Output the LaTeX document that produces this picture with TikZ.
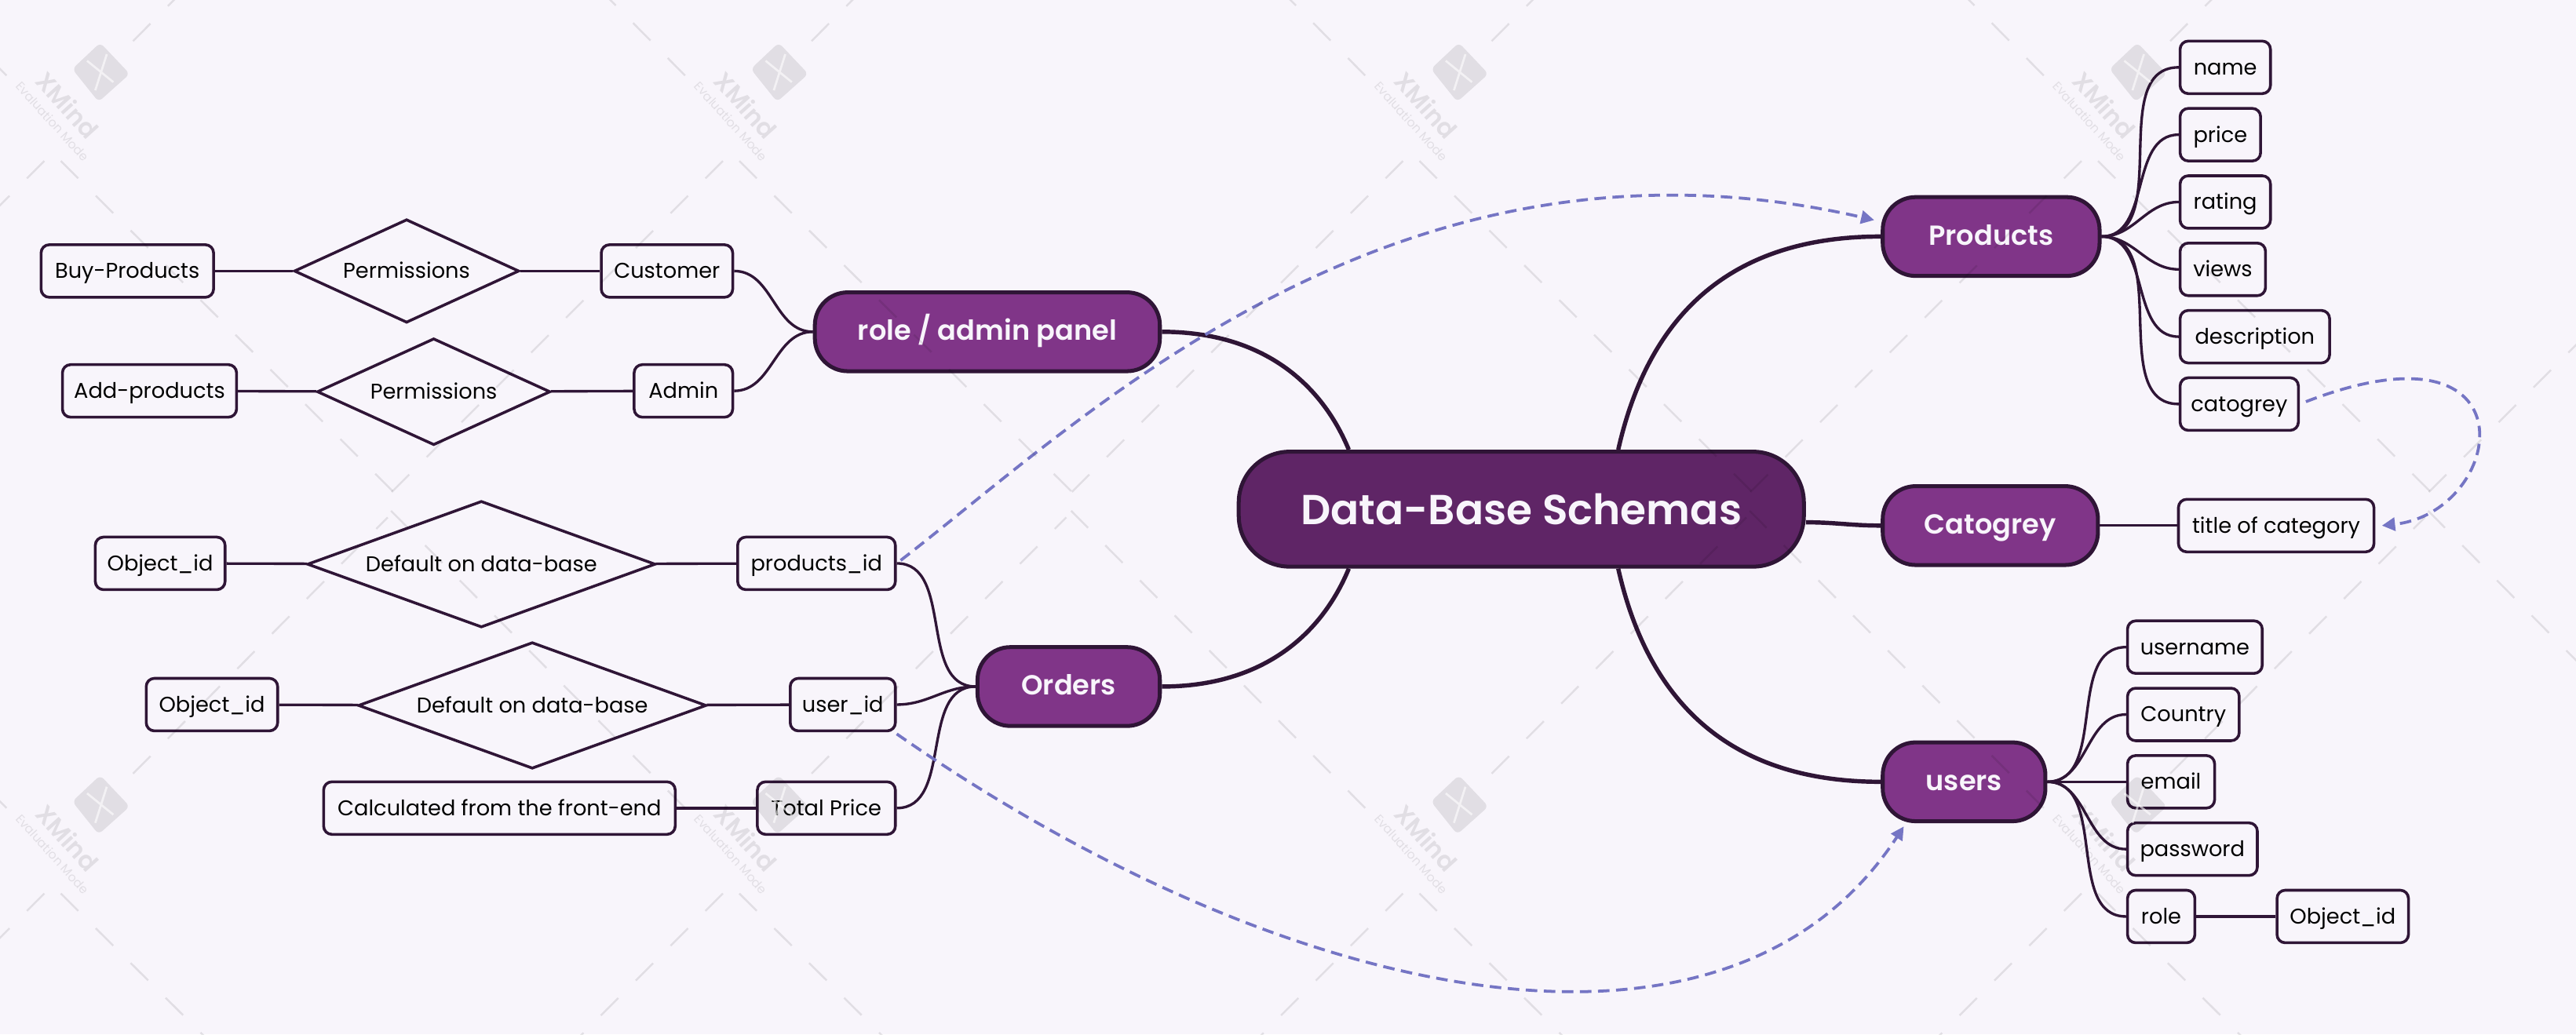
\documentclass[tikz,border=0pt]{standalone}
\usepackage{fontspec}
\setmainfont{Poppins}[BoldFont=* SemiBold]
\usepackage{tikz}
\usetikzlibrary{positioning,calc,arrows.meta,shapes.geometric}
\definecolor{paperbg}{HTML}{F8F5FB}
\definecolor{inkdark}{HTML}{2F1536}
\definecolor{hubfill}{HTML}{5F2566}
\definecolor{topicfill}{HTML}{803588}
\definecolor{linkblue}{HTML}{7575C4}
\tikzset{leaf/.style = {rectangle,draw=inkdark,fill=paperbg,line width=1.7pt,rounded corners=5pt,minimum height=32pt,inner sep=0pt,text height=10.5pt,text depth=1.5pt,text=black,font=\fontsize{13}{15}\selectfont}}
\tikzset{rhomb/.style = {diamond,draw=inkdark,fill=paperbg,line width=1.7pt,inner sep=0pt,text height=10.5pt,text depth=1.5pt,text=black,font=\fontsize{13}{15}\selectfont}}
\tikzset{topic/.style = {rectangle,draw=inkdark,fill=topicfill,line width=2.4pt,rounded corners=20pt,minimum height=48pt,inner sep=0pt,text height=13pt,text depth=2.5pt,text=paperbg,font=\fontsize{16.8}{20}\selectfont\bfseries}}
\tikzset{twig/.style = {draw=inkdark,line width=1.6pt}}
\tikzset{limb/.style = {draw=inkdark,line width=2.6pt}}
\tikzset{relation/.style = {draw=linkblue,line width=1.8pt,dash pattern=on 7pt off 4pt,-{Triangle[length=8pt,width=8pt]}}}
\tikzset{mark line/.style = {black,opacity=.09,line width=1.2pt,dash pattern=on 15pt off 15pt}}
\begin{document}
\begin{tikzpicture}[x=1pt,y=-1pt]
        \fill[paperbg] (0,0) rectangle (1568,629.7);
        \useasboundingbox (0,0) rectangle (1568,629.7);
        \node [rectangle,draw=inkdark,fill=hubfill,line width=2.4pt,rounded corners=31pt,minimum width=344pt,minimum height=70pt,text=paperbg,font=\fontsize{25.5}{30}\selectfont\bfseries] (hub) at (926,310) {Data-Base Schemas};
        \node [topic,minimum width=210pt] (role) at (601,202) {role / admin panel};
        \node [topic,minimum width=111pt] (orders) at (650.5,418) {Orders};
        \node [topic,minimum width=132pt] (products) at (1212,144) {Products};
        \node [topic,minimum width=131pt] (category) at (1211.5,320) {Catogrey};
        \node [topic,minimum width=99pt] (users) at (1195.5,476) {users};
        \node [leaf,minimum width=105pt] (buy) at (77.5,165) {Buy-Products};
        \node [rhomb,aspect=2.17,minimum width=137pt,minimum height=63pt] (permA) at (247.5,165) {Permissions};
        \node [leaf,minimum width=80pt] (customer) at (406,165) {Customer};
        \node [leaf,minimum width=106pt] (add) at (91,238) {Add-products};
        \node [rhomb,aspect=2.18,minimum width=142pt,minimum height=65pt] (permB) at (264,238.5) {Permissions};
        \node [leaf,minimum width=60pt] (admin) at (416,238) {Admin};
        \node [leaf,minimum width=79pt] (objA) at (97.5,343) {Object\_id};
        \node [rhomb,aspect=2.75,minimum width=212pt,minimum height=77pt] (defA) at (293,343.5) {Default on data-base};
        \node [leaf,minimum width=96pt] (prodid) at (497,343) {products\_id};
        \node [leaf,minimum width=80pt] (objB) at (129,429) {Object\_id};
        \node [rhomb,aspect=2.75,minimum width=212pt,minimum height=77pt] (defB) at (324,429.5) {Default on data-base};
        \node [leaf,minimum width=64pt] (userid) at (513,429) {user\_id};
        \node [leaf,minimum width=214pt] (calc) at (304,492) {Calculated from the front-end};
        \node [leaf,minimum width=84pt] (total) at (503,492) {Total Price};
        \node [leaf,minimum width=55pt] (name) at (1354.5,41) {name};
        \node [leaf,minimum width=49pt] (price) at (1351.5,82) {price};
        \node [leaf,minimum width=55pt] (rating) at (1354.5,123) {rating};
        \node [leaf,minimum width=52pt] (views) at (1353,164) {views};
        \node [leaf,minimum width=91pt] (descr) at (1372.5,205) {description};
        \node [leaf,minimum width=72pt] (catfield) at (1363,246) {catogrey};
        \node [leaf,minimum width=119pt] (title) at (1385.5,320) {title of category};
        \node [leaf,minimum width=82pt] (username) at (1336,394) {username};
        \node [leaf,minimum width=68pt] (country) at (1329,435) {Country};
        \node [leaf,minimum width=53pt] (email) at (1321.5,476) {email};
        \node [leaf,minimum width=79pt] (password) at (1334.5,517) {password};
        \node [leaf,minimum width=41pt] (rolefield) at (1315.5,558) {role};
        \node [leaf,minimum width=80pt] (objC) at (1426,558) {Object\_id};
        \coordinate (hubNW) at ($(hub.north)+(-105,0)$);
        \coordinate (hubNE) at ($(hub.north)+(59,0)$);
        \coordinate (hubSW) at ($(hub.south)+(-105,0)$);
        \coordinate (hubSE) at ($(hub.south)+(59,0)$);
        \coordinate (hubE) at ($(hub.east)+(0,8)$);
        \draw [limb] (role.east) .. controls (770,202) and (805,235) .. (hubNW);
        \draw [limb] (orders.east) .. controls (770,418) and (805,385) .. (hubSW);
        \draw [limb] (products.west) .. controls (1060,144) and (1005,185) .. (hubNE);
        \draw [limb] (users.west) .. controls (1060,476) and (1005,435) .. (hubSE);
        \draw [limb] (hubE) to[out=0,in=180] (category.west);
        \draw [twig] (buy) -- (permA) -- (customer);
        \draw [twig] (add) -- (permB) -- (admin);
        \draw [twig] (objA) -- (defA) -- (prodid);
        \draw [twig] (objB) -- (defB) -- (userid);
        \draw [twig] (calc) -- (total);
        \draw [twig] (category) -- (title);
        \draw [twig] (rolefield) -- (objC);
        \draw [twig] (role.west) to[out=180,in=0] (customer.east);
        \draw [twig] (role.west) to[out=180,in=0] (admin.east);
        \draw [twig] (orders.west) to[out=180,in=0] (prodid.east);
        \draw [twig] (orders.west) to[out=180,in=0] (userid.east);
        \draw [twig] (orders.west) to[out=180,in=0] (total.east);
        \draw [twig] (products.east) to[out=0,in=180] (name.west);
        \draw [twig] (products.east) to[out=0,in=180] (price.west);
        \draw [twig] (products.east) to[out=0,in=180] (rating.west);
        \draw [twig] (products.east) to[out=0,in=180] (views.west);
        \draw [twig] (products.east) to[out=0,in=180] (descr.west);
        \draw [twig] (products.east) to[out=0,in=180] (catfield.west);
        \draw [twig] (users.east) to[out=0,in=180] (username.west);
        \draw [twig] (users.east) to[out=0,in=180] (country.west);
        \draw [twig] (users.east) to[out=0,in=180] (email.west);
        \draw [twig] (users.east) to[out=0,in=180] (password.west);
        \draw [twig] (users.east) to[out=0,in=180] (rolefield.west);
        \draw [relation,shorten <=3pt] (prodid.east) .. controls (660,255) and (850,67) .. ($(products.west)+(-4,-10)$);
        \draw [relation] ($(userid.south east)+(0,1)$) .. controls (780,610) and (1050,670) .. ($(users.south west)+(14,2)$);
        \draw [relation,shorten <=4pt] (catfield.east) .. controls (1545,190) and (1525,312) .. ($(title.east)+(4,0)$);
        \begin{scope}
            \clip (0,0) rectangle (1568,629.7);
            \foreach \lx in {-352,61,474,888,1301,1714}
                \foreach \ly in {-402,44,490,936} {
                    \draw [mark line] (\lx-57,\ly+2) -- (\lx-236,\ly-179);
                    \draw [mark line] (\lx+20,\ly-19) -- (\lx+175,\ly-175);
                    \draw [mark line] (\lx-34,\ly+54) -- (\lx-236,\ly+256);
                    \draw [mark line] (\lx-24,\ly+54) -- (\lx+179,\ly+256);
                }
            \foreach \lx in {61,474,888,1301}
                \foreach \ly in {44,490} {
                    \fill [black,opacity=.09,rounded corners=3pt] (\lx,\ly-18) -- (\lx+18,\ly+1) -- (\lx-1,\ly+18) -- (\lx-17,\ly-2) -- cycle;
                    \draw [white,opacity=.6,line width=1.3pt] (\lx-8,\ly-7) -- (\lx+8,\ly+6) (\lx+4,\ly-11) -- (\lx-3,\ly+11);
                    \node [black,opacity=.09,rotate=-48,font=\fontsize{15}{17}\selectfont\bfseries] (wmname\lx\ly) at (\lx-20,\ly+20) {XMind};
                    \node [black,opacity=.09,rotate=-48,font=\fontsize{7.5}{9}\selectfont] (wmmode\lx\ly) at (\lx-29,\ly+30) {Evaluation Mode};
                }
        \end{scope}
    \end{tikzpicture}
\end{document}
